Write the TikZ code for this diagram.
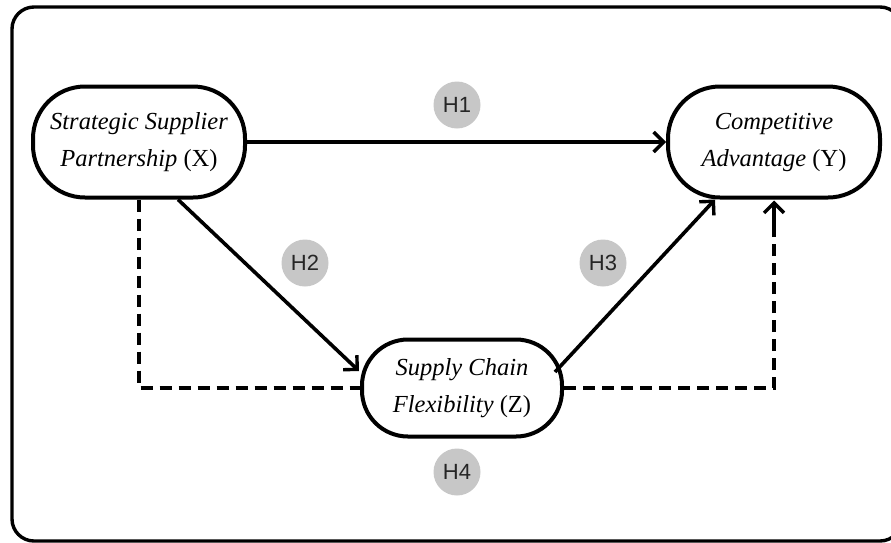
\documentclass[tikz,border=0pt]{standalone}
\usepackage{fontspec}
\setmainfont{Liberation Serif}
\newfontfamily\hfont{Liberation Sans}
\usetikzlibrary{arrows.meta,calc}
\begin{document}
\begin{tikzpicture}[x=1pt,y=-1pt,
  box/.style={draw, line width=4pt, rounded corners=52pt, align=center,
    minimum width=212pt, minimum height=111pt, inner sep=0pt,
    font=\fontsize{24.5}{37}\selectfont, text=black},
  hyp/.style={circle, fill=black!22, minimum size=47pt, inner sep=0pt,
    font=\hfont\fontsize{22}{26}\selectfont, text=black!85},
  conn/.style={line width=3.6pt, -{Straight Barb[length=10pt,width=20pt,line width=3.4pt]}},
  dashconn/.style={line width=3.6pt, dash pattern=on 12pt off 7pt},
]
\useasboundingbox (0,0) rectangle (891,542);
\draw[line width=3.4pt, rounded corners=22pt] (12,7) rectangle (902,541);

\node[box] (X) at (139,142) {\textit{Strategic Supplier}\\\textit{Partnership} (X)};
\node[box] (Y) at (774,142) {\textit{Competitive}\\\textit{Advantage} (Y)};
\node[box, minimum width=200pt, minimum height=97pt, rounded corners=46pt] (Z) at (462,388) {\textit{Supply Chain}\\\textit{Flexibility} (Z)};

\draw[conn] (X.east) -- (Y.west);
\draw[conn] ($(X.south)+(39,0)$) -- ($(Z.west)+(-1,-17)$);
\draw[conn] ($(Z.east)+(-9,-16)$) -- ($(Y.south)+(-59,0)$);
\draw[dashconn] (X.south) |- (Z.west);
\draw[dashconn] (Z.east) -| (Y.south);
\coordinate (ytip) at ($(Y.south)+(0,1)$);
\draw[conn] ($(Y.south)+(0,30)$) -- (ytip);

\node[hyp] (H1) at (457,105) {H1};
\node[hyp] (H2) at (305,263) {H2};
\node[hyp] (H3) at (603,263) {H3};
\node[hyp] (H4) at (457,472) {H4};
\end{tikzpicture}
\end{document}
